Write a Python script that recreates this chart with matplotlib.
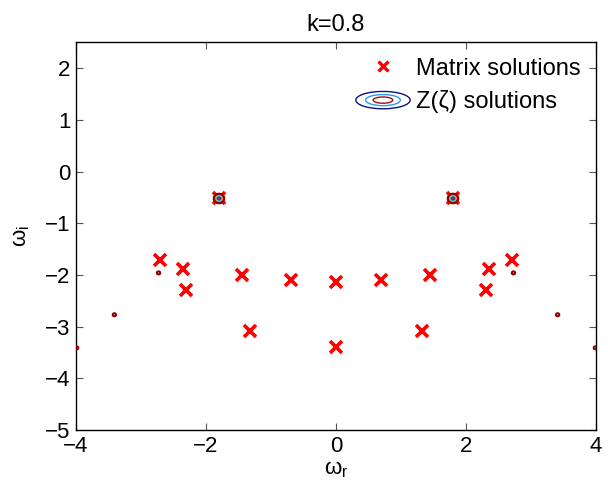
import numpy as np
import matplotlib
matplotlib.use("Agg")
import matplotlib.pyplot as plt
from matplotlib.legend_handler import HandlerBase
from matplotlib.patches import Ellipse
from matplotlib.lines import Line2D

# ---------------- data ----------------
title_text = "k=0.8"
# Matrix eigenvalue solutions (omega_r, omega_i)
matrix_wr = [-2.71, -2.36, -2.31, -1.80, -1.44, -1.32, -0.69, 0.00, 0.00,
             0.69, 1.32, 1.44, 1.80, 2.31, 2.36, 2.71]
matrix_wi = [-1.72, -1.88, -2.30, -0.52, -2.00, -3.09, -2.10, -2.13, -3.39,
             -2.10, -3.09, -2.00, -0.52, -2.30, -1.88, -1.72]
# Z(zeta) dispersion-relation roots and how deep their contour well is
z_wr = [-3.99, -3.41, -2.73, -1.80, 1.80, 2.73, 3.41, 3.99]
z_wi = [-3.41, -2.77, -1.96, -0.52, -0.52, -1.96, -2.77, -3.41]
z_depth = [0.9, 0.9, 0.9, 0.0, 0.0, 0.9, 0.9, 0.9]
contour_levels = [0.2, 0.4, 0.6, 0.8, 1.0]
contour_colors = ["#0040ff", "#00c8ff", "#ffe000", "#ff2000", "#8c0000"]
xticks = [-4, -2, 0, 2, 4]
yticks = [-5, -4, -3, -2, -1, 0, 1, 2]

plt.rcParams["font.family"] = ["Liberation Sans", "DejaVu Sans"]
plt.rcParams["mathtext.fontset"] = "custom"
plt.rcParams["mathtext.rm"] = "Liberation Sans"

fig = plt.figure(figsize=(6.08, 4.92), dpi=100)
ax = fig.add_axes([76 / 608, 62 / 492, 520 / 608, 387.6 / 492])

# contour field built from the root list
gx = np.arange(-4.2, 4.2, 0.004)
gy = np.arange(-5.0, 2.5, 0.004)
X, Y = np.meshgrid(gx, gy)
F = np.full(X.shape, 10.0)
sx, sy = 0.08, 0.092
for xr, yr, d in zip(z_wr, z_wi, z_depth):
    F = np.minimum(F, d + ((X - xr) / sx) ** 2 + ((Y - yr) / sy) ** 2)
ax.contour(X, Y, F, levels=contour_levels, colors=contour_colors,
           linewidths=1.5, zorder=3)

ax.plot(matrix_wr, matrix_wi, "x", color="red", markersize=8,
        markeredgewidth=2.6, zorder=2)

ax.set_xlim(-4, 4)
ax.set_ylim(-5, 2.5)
ax.set_xticks(xticks)
ax.set_yticks(yticks)
ax.set_xticklabels([str(t).replace("-", "\u2212") for t in xticks])
ax.set_yticklabels([str(t).replace("-", "\u2212") for t in yticks])
ax.tick_params(direction="in", top=True, right=True, length=5, width=0.8,
               color="#555555", labelsize=16, pad=4)
for s in ax.spines.values():
    s.set_linewidth(1.0)
ax.set_title(title_text, fontsize=17, pad=8)
ax.set_xlabel("\u03c9$_\\mathregular{r}$", fontsize=16, labelpad=2)
ax.set_ylabel("\u03c9$_\\mathregular{i}$", fontsize=16, labelpad=9)


class ContourKey:
    pass


class HandlerContour(HandlerBase):
    def create_artists(self, legend, orig_handle, xdescent, ydescent,
                       width, height, fontsize, trans):
        cx = width / 2 - xdescent
        cy = height / 2 - ydescent
        arts = []
        for sc, col in [(1.0, "#101080"), (0.64, "#20a0ff"), (0.36, "#a01010")]:
            e = Ellipse((cx, cy), width * sc, height * 1.05 * sc,
                        facecolor="none", edgecolor=col, linewidth=1.0,
                        transform=trans)
            arts.append(e)
        return arts


h1 = Line2D([], [], linestyle="none", marker="x", color="red",
            markersize=7, markeredgewidth=2.4)
h2 = ContourKey()
leg = ax.legend([h1, h2], ["Matrix solutions", "Z(\u03b6) solutions"],
                handler_map={ContourKey: HandlerContour()},
                loc="upper right", bbox_to_anchor=(1.0, 1.0),
                frameon=False, fontsize=17, handlelength=2.3,
                handletextpad=0.25, labelspacing=0.45, borderaxespad=0.25)

fig.savefig("out.png", dpi=100)
